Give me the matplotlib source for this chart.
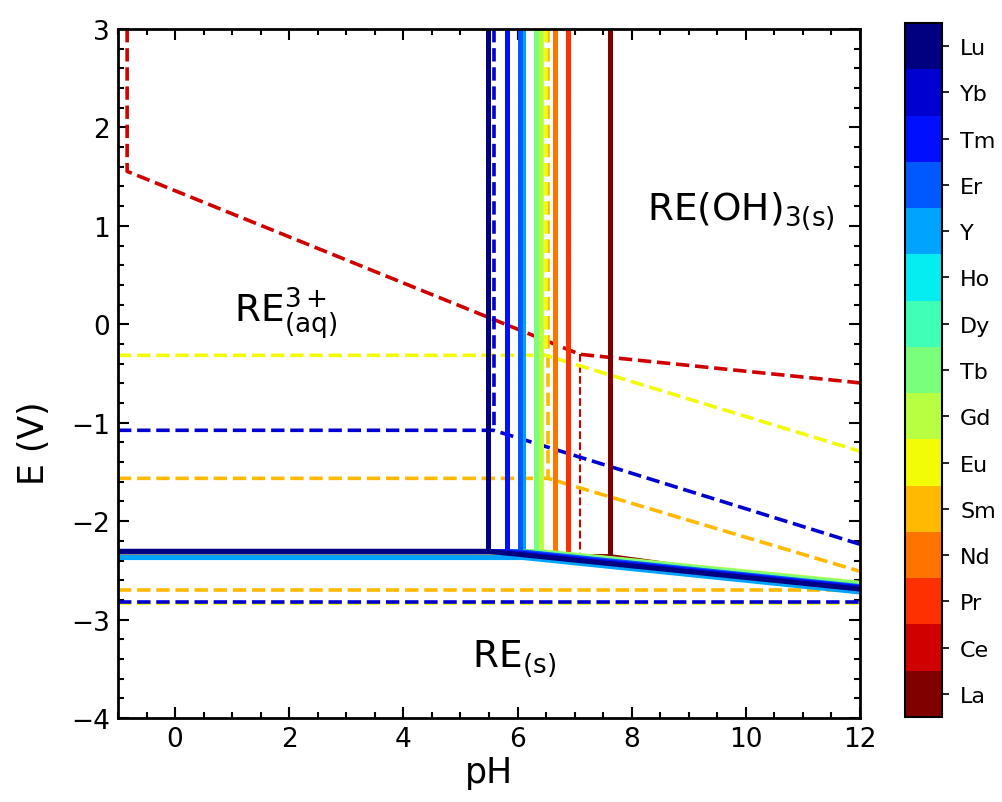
import matplotlib
matplotlib.use("Agg")
import matplotlib.pyplot as plt
import numpy as np
from matplotlib.colors import ListedColormap, BoundaryNorm
from matplotlib.cm import ScalarMappable
from matplotlib.ticker import MultipleLocator

plt.rcParams["mathtext.default"] = "regular"

# ---- data ----
elements = ["La", "Ce", "Pr", "Nd", "Sm", "Eu", "Gd", "Tb", "Dy", "Ho", "Y", "Er", "Tm", "Yb", "Lu"]

# solid-line elements (in drawing order): hydrolysis pH, RE3+/RE potential, potential at pH 12
solid_names = ["La", "Pr", "Nd", "Ho", "Dy", "Y", "Gd", "Tb", "Er", "Tm", "Lu"]
solid_pH = [7.62, 6.89, 6.66, 6.07, 6.32, 6.10, 6.41, 6.32, 6.05, 5.81, 5.48]
solid_E0 = [-2.36, -2.355, -2.35, -2.31, -2.31, -2.37, -2.31, -2.31, -2.31, -2.31, -2.306]
solid_E12 = [-2.71, -2.69, -2.68, -2.655, -2.65, -2.72, -2.63, -2.64, -2.665, -2.675, -2.69]

# Ce (dashed)
ce_pH = [-0.84, -0.84, 7.09, 12.0]
ce_E = [3.0, 1.554, -0.305, -0.595]
ce_thin_pH = [7.09, 7.09]
ce_thin_E = [-0.305, -2.33]

# divalent-capable elements (dashed): vertical pH, E of RE3+/RE2+, E at pH 12, E of RE2+/RE
div_names = ["Sm", "Eu", "Yb"]
div_pH = [6.53, 6.49, 5.58]
div_E = [-1.565, -0.315, -1.077]
div_E12 = [-2.51, -1.29, -2.235]
div_Ebottom = [-2.70, -2.835, -2.82]

xmin, xmax = -1, 12
ymin, ymax = -4, 3

# ---- colours ----
cmap_base = plt.get_cmap("jet_r")
colors = [cmap_base(i / (len(elements) - 1)) for i in range(len(elements))]
col = dict(zip(elements, colors))

fig = plt.figure(figsize=(10.02, 8.03), dpi=100)
ax = fig.add_axes([118 / 1002, 1 - 719 / 803, (860 - 118) / 1002, (719 - 30) / 803])

lw_d = 2.6
# Ce
ax.plot(ce_pH, ce_E, ls="--", color=col["Ce"], lw=lw_d)
ax.plot(ce_thin_pH, ce_thin_E, ls="--", color=col["Ce"], lw=1.5)

# divalent dashed lines
for n, p, e, e12, eb in zip(div_names, div_pH, div_E, div_E12, div_Ebottom):
    c = col[n]
    ax.plot([xmin, p, xmax], [e, e, e12], ls="--", color=c, lw=lw_d)
    ax.plot([p, p], [ymax, e], ls="--", color=c, lw=lw_d)
    ax.plot([xmin, xmax], [eb, eb], ls="--", color=c, lw=lw_d)

# solid lines
for n, p, e0, e12 in zip(solid_names, solid_pH, solid_E0, solid_E12):
    c = col[n]
    ax.plot([p, p], [ymax, e0], color=c, lw=3.6, solid_capstyle="butt")
    ax.plot([xmin, p, xmax], [e0, e0, e12], color=c, lw=3.6,
            solid_capstyle="butt", solid_joinstyle="miter")

ax.set_xlim(xmin, xmax)
ax.set_ylim(ymin, ymax)
ax.xaxis.set_major_locator(MultipleLocator(2))
ax.xaxis.set_minor_locator(MultipleLocator(0.5))
ax.yaxis.set_major_locator(MultipleLocator(1))
ax.yaxis.set_minor_locator(MultipleLocator(0.2))
ax.tick_params(which="both", direction="in", top=True, right=True, width=1.5)
ax.tick_params(which="major", length=8, labelsize=19, pad=6)
ax.tick_params(which="minor", length=4)
for s in ax.spines.values():
    s.set_linewidth(2)

ax.set_xlabel("pH", fontsize=25, labelpad=2)
ax.set_ylabel("E (V)", fontsize=25, labelpad=4)
ax.yaxis.set_label_coords(-0.09, 0.40)

ax.text(8.27, 1.067, r"RE(OH)$_{3(s)}$", fontsize=27, ha="left", va="baseline")
ax.text(1.03, 0.02, r"RE$^{3+}_{(aq)}$", fontsize=27, ha="left", va="baseline")
ax.text(5.2, -3.48, r"RE$_{(s)}$", fontsize=27, ha="left", va="baseline")

# colorbar
cax = fig.add_axes([905 / 1002, 1 - 718 / 803, 37 / 1002, (718 - 24) / 803])
cmap = ListedColormap(colors)
norm = BoundaryNorm(np.arange(-0.5, len(elements) + 0.5, 1), cmap.N)
sm = ScalarMappable(norm=norm, cmap=cmap)
cb = fig.colorbar(sm, cax=cax, ticks=np.arange(len(elements)))
cb.ax.set_yticklabels(elements)
cb.minorticks_off()
cb.ax.tick_params(labelsize=16, length=5, width=1.2, pad=8)
cb.outline.set_linewidth(1.5)

fig.savefig("out.png", dpi=100)
